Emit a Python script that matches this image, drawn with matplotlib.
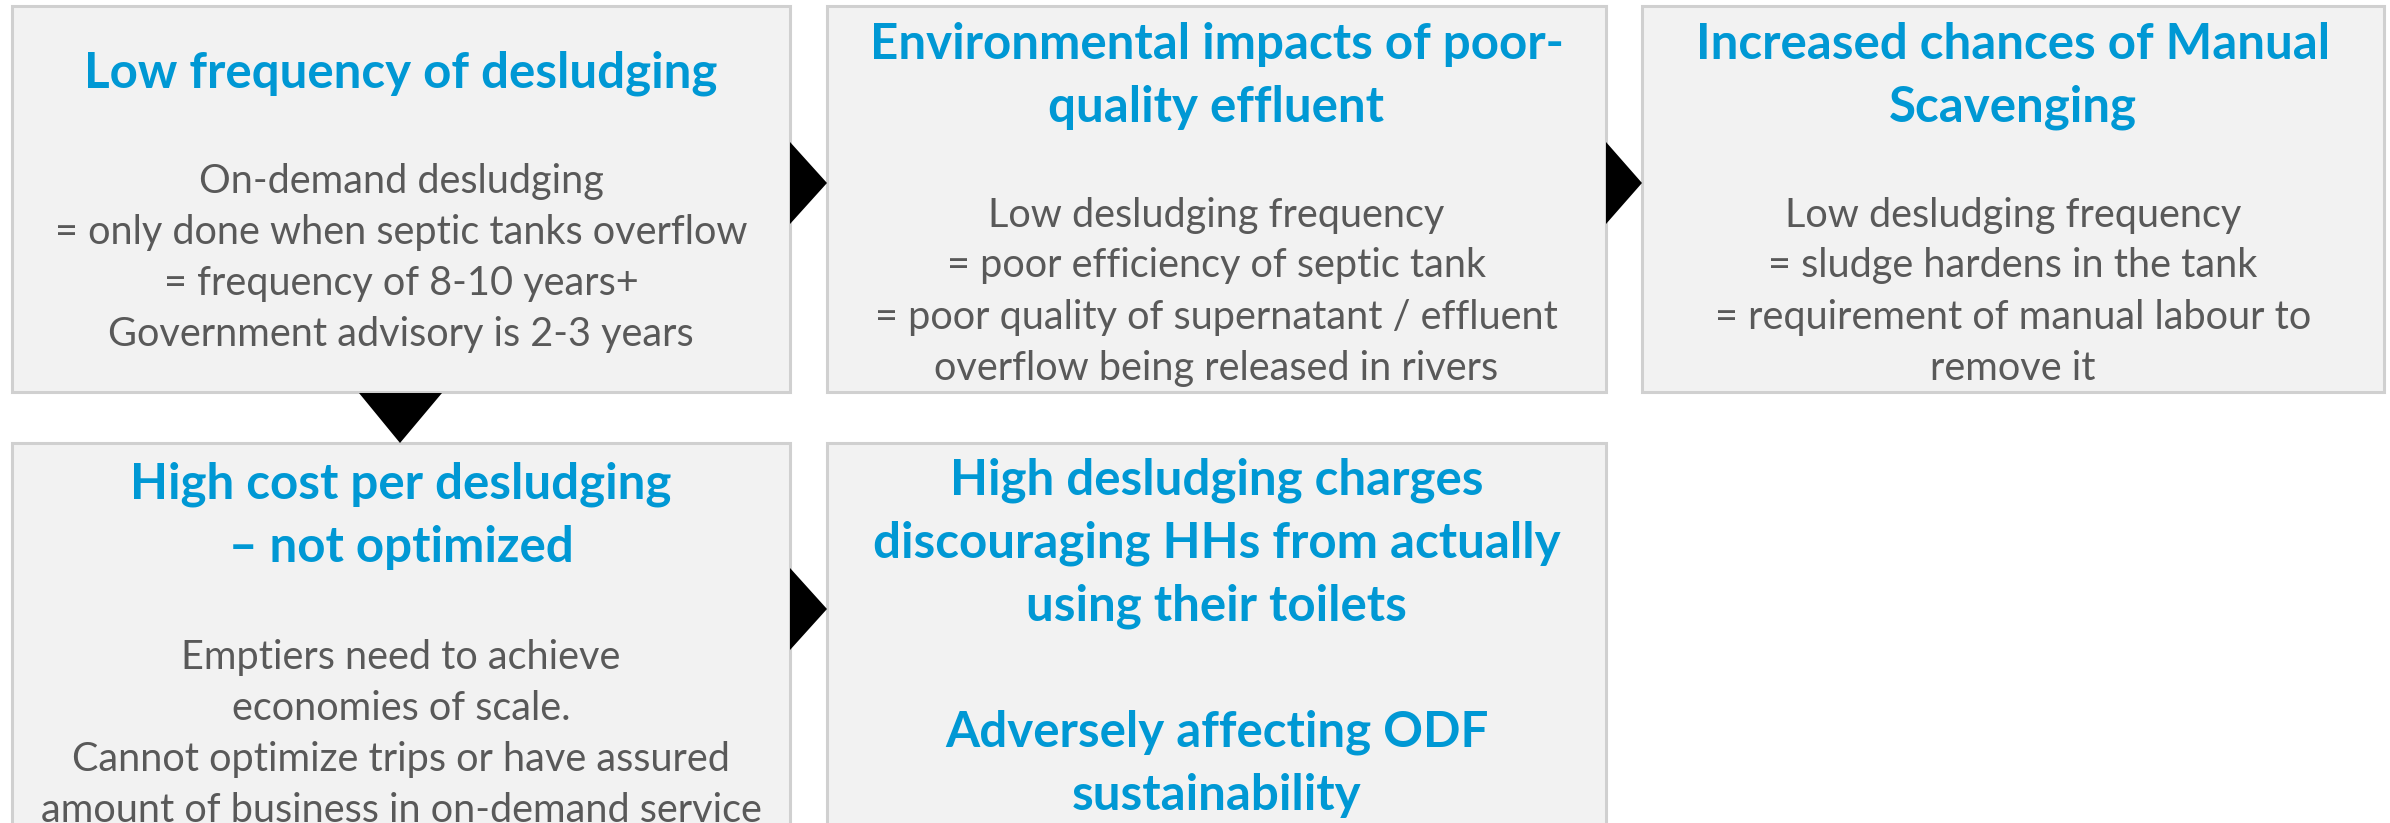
import matplotlib.pyplot as plt
from matplotlib.patches import Rectangle, Polygon

# box contents
titles = [
    ["Low frequency of desludging"],
    ["Environmental impacts of poor-", "quality effluent"],
    ["Increased chances of Manual", "Scavenging"],
    ["High cost per desludging", "\u2013 not optimized"],
    ["High desludging charges", "discouraging HHs from actually", "using their toilets",
     "", "Adversely affecting ODF", "sustainability"],
]
bodies = [
    ["On-demand desludging", "= only done when septic tanks overflow",
     "= frequency of 8-10 years+", "Government advisory is 2-3 years"],
    ["Low desludging frequency", "= poor efficiency of septic tank",
     "= poor quality of supernatant / effluent", "overflow being released in rivers"],
    ["Low desludging frequency", "= sludge hardens in the tank",
     "= requirement of manual labour to", "remove it"],
    ["Emptiers need to achieve", "economies of scale.",
     "Cannot optimize trips or have assured", "amount of business in on-demand service"],
    [],
]

# layout in pixels (x0, y0, x1, y1), title first-line y, body first-line y
boxes = [(12, 6, 790, 392), (827, 6, 1606, 392), (1642, 6, 2384, 392),
         (12, 443, 790, 900), (827, 443, 1606, 900)]
title_y = [73, 44, 44, 484, 480]
body_y = [181, 215, 215, 658, None]
title_step = 63
body_step = 51

blue = "#0098D4"
grey = "#595959"

fig = plt.figure(figsize=(23.9, 8.23), dpi=100)
ax = fig.add_axes([0, 0, 1, 1])
ax.set_xlim(0, 2390)
ax.set_ylim(823, 0)
ax.axis("off")

for i, (x0, y0, x1, y1) in enumerate(boxes):
    ax.add_patch(Rectangle((x0, y0), x1 - x0, y1 - y0, facecolor="#F2F2F2",
                           edgecolor="#D0D0D0", linewidth=2.2))
    cx = (x0 + x1) / 2
    for k, line in enumerate(titles[i]):
        ax.text(cx, title_y[i] + k * title_step, line, ha="center", va="center",
                fontsize=35.5, fontweight="bold", color=blue, family="Lato")
    for k, line in enumerate(bodies[i]):
        ax.text(cx, body_y[i] + k * body_step, line, ha="center", va="center",
                fontsize=28.5, color=grey, family="Lato")

# arrows between boxes
right_arrows = [(790, 142, 224, 827), (1606, 142, 224, 1642), (790, 568, 650, 827)]
for xa, ya, yb, xt in right_arrows:
    ax.add_patch(Polygon([(xa, ya), (xa, yb), (xt, (ya + yb) / 2)], closed=True,
                         facecolor="black", edgecolor="none"))
ax.add_patch(Polygon([(359, 393), (442, 393), (400, 443)], closed=True,
                     facecolor="black", edgecolor="none"))

fig.savefig("out.png", dpi=100)
